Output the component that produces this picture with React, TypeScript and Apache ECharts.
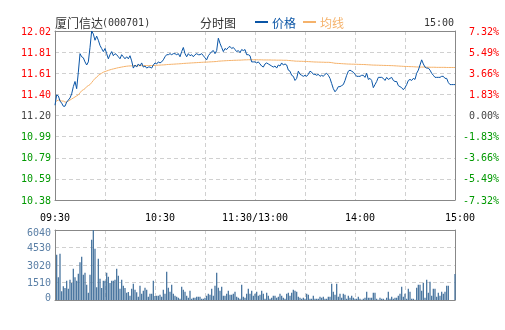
import React, { useEffect, useRef } from "react";
import * as echarts from "echarts";

const PREV_CLOSE = 11.2;

const priceLabels = ["10.38", "10.59", "10.79", "10.99", "11.20", "11.40", "11.61", "11.81", "12.02"];
const pctLabels = ["-7.32%", "-5.49%", "-3.66%", "-1.83%", "0.00%", "1.83%", "3.66%", "5.49%", "7.32%"];
const volLabels = ["0", "1510", "3020", "4530", "6040"];
const timeLabelIdx = [0, 60, 120, 180, 240];
const timeLabelText = ["09:30", "10:30", "11:30/13:00", "14:00", "15:00"];

const prices = [
  11.30, 11.40, 11.39, 11.34, 11.32, 11.29, 11.29, 11.33, 11.35, 11.37,
  11.41, 11.48, 11.53, 11.46, 11.62, 11.80, 11.77, 11.76, 11.72, 11.69,
  11.72, 11.86, 12.02, 11.99, 11.93, 11.97, 11.93, 11.88, 11.85, 11.82,
  11.85, 11.80, 11.75, 11.79, 11.82, 11.78, 11.80, 11.79, 11.77, 11.75,
  11.79, 11.77, 11.75, 11.77, 11.75, 11.78, 11.73, 11.66, 11.69, 11.67,
  11.70, 11.68, 11.71, 11.67, 11.68, 11.66, 11.67, 11.67, 11.66, 11.69,
  11.71, 11.70, 11.72, 11.71, 11.72, 11.74, 11.77, 11.79, 11.79, 11.80,
  11.79, 11.80, 11.80, 11.79, 11.80, 11.77, 11.82, 11.86, 11.80, 11.77,
  11.80, 11.78, 11.79, 11.77, 11.79, 11.80, 11.79, 11.79, 11.80, 11.78,
  11.76, 11.74, 11.78, 11.80, 11.82, 11.83, 11.80, 11.83, 11.95, 11.90,
  11.86, 11.82, 11.85, 11.84, 11.86, 11.87, 11.85, 11.86, 11.84, 11.82,
  11.83, 11.81, 11.84, 11.83, 11.84, 11.79, 11.79, 11.78, 11.72, 11.72,
  11.72, 11.71, 11.72, 11.70, 11.68, 11.67, 11.70, 11.71, 11.70, 11.69,
  11.68, 11.67, 11.68, 11.66, 11.69, 11.68, 11.71, 11.69, 11.70, 11.69,
  11.64, 11.63, 11.59, 11.58, 11.54, 11.56, 11.63, 11.60, 11.59, 11.58,
  11.59, 11.58, 11.60, 11.63, 11.62, 11.60, 11.60, 11.59, 11.60, 11.58,
  11.59, 11.58, 11.60, 11.61, 11.59, 11.56, 11.51, 11.46, 11.43, 11.45,
  11.48, 11.48, 11.49, 11.50, 11.54, 11.59, 11.63, 11.64, 11.63, 11.62,
  11.60, 11.58, 11.58, 11.58, 11.59, 11.59, 11.57, 11.61, 11.55, 11.56,
  11.54, 11.47, 11.50, 11.53, 11.57, 11.57, 11.57, 11.56, 11.54, 11.57,
  11.55, 11.56, 11.57, 11.54, 11.53, 11.53, 11.49, 11.48, 11.47, 11.45,
  11.47, 11.50, 11.54, 11.55, 11.54, 11.56, 11.55, 11.61, 11.64, 11.69,
  11.74, 11.70, 11.67, 11.66, 11.66, 11.64, 11.61, 11.59, 11.57, 11.57,
  11.57, 11.57, 11.58, 11.58, 11.56, 11.56, 11.52, 11.50, 11.50, 11.50,
  11.50,
];

const avgPrices = [
  11.33, 11.34, 11.35, 11.35, 11.34, 11.34, 11.33, 11.33, 11.34, 11.35,
  11.36, 11.37, 11.38, 11.39, 11.40, 11.42, 11.44, 11.45, 11.46, 11.48,
  11.49, 11.50, 11.52, 11.54, 11.56, 11.57, 11.59, 11.60, 11.61, 11.62,
  11.626, 11.632, 11.638, 11.643, 11.648, 11.652, 11.656, 11.66, 11.664, 11.667,
  11.67, 11.673, 11.676, 11.678, 11.68, 11.681, 11.682, 11.682, 11.683, 11.683,
  11.683, 11.683, 11.684, 11.684, 11.684, 11.684, 11.684, 11.685, 11.685, 11.685,
  11.686, 11.687, 11.688, 11.689, 11.69, 11.691, 11.692, 11.694, 11.695, 11.696,
  11.697, 11.698, 11.699, 11.7, 11.701, 11.702, 11.703, 11.705, 11.706, 11.707,
  11.708, 11.709, 11.71, 11.711, 11.712, 11.713, 11.714, 11.715, 11.716, 11.717,
  11.718, 11.718, 11.719, 11.72, 11.721, 11.722, 11.723, 11.724, 11.727, 11.728,
  11.729, 11.73, 11.731, 11.732, 11.733, 11.734, 11.734, 11.735, 11.736, 11.736,
  11.737, 11.737, 11.738, 11.739, 11.74, 11.74, 11.741, 11.741, 11.741, 11.741,
  11.741, 11.741, 11.74, 11.74, 11.74, 11.739, 11.739, 11.739, 11.739, 11.739,
  11.738, 11.738, 11.738, 11.737, 11.737, 11.737, 11.737, 11.736, 11.736, 11.736,
  11.734, 11.733, 11.731, 11.73, 11.728, 11.727, 11.727, 11.726, 11.726, 11.725,
  11.725, 11.724, 11.723, 11.722, 11.721, 11.72, 11.719, 11.719, 11.718, 11.718,
  11.717, 11.717, 11.716, 11.716, 11.716, 11.715, 11.713, 11.71, 11.707, 11.706,
  11.705, 11.704, 11.703, 11.702, 11.701, 11.7, 11.699, 11.699, 11.698, 11.698,
  11.697, 11.697, 11.696, 11.696, 11.695, 11.695, 11.694, 11.693, 11.692, 11.691,
  11.69, 11.689, 11.689, 11.688, 11.688, 11.687, 11.687, 11.686, 11.686, 11.685,
  11.685, 11.684, 11.684, 11.683, 11.682, 11.681, 11.68, 11.679, 11.678, 11.677,
  11.676, 11.676, 11.675, 11.674, 11.674, 11.673, 11.672, 11.671, 11.671, 11.67,
  11.67, 11.67, 11.669, 11.669, 11.669, 11.668, 11.668, 11.668, 11.668, 11.667,
  11.667, 11.667, 11.667, 11.667, 11.667, 11.666, 11.666, 11.666, 11.666, 11.666,
  11.666,
];

const volumes = [
  0, 3911, 1956, 3998, 748, 1179, 1035, 1668, 978, 1754,
  1467, 2703, 1956, 1668, 2272, 3250, 3739, 2186, 2358, 1323,
  633, 2186, 5206, 6040, 4429, 1093, 3566, 1841, 1035, 1668,
  1668, 2358, 2013, 1467, 1668, 1668, 1754, 2703, 2100, 978,
  1754, 1237, 1035, 633, 690, 374, 978, 1409, 892, 661,
  288, 1237, 546, 805, 1064, 892, 288, 546, 546, 1668,
  345, 374, 374, 460, 288, 892, 546, 2445, 1064, 719,
  1323, 546, 374, 288, 201, 115, 1150, 892, 719, 374,
  201, 805, 115, 201, 201, 288, 288, 288, 115, 115,
  201, 374, 546, 460, 978, 374, 1237, 2358, 1064, 805,
  1150, 374, 374, 546, 805, 460, 460, 546, 719, 288,
  201, 115, 1323, 288, 201, 546, 978, 546, 805, 374,
  546, 719, 374, 460, 805, 546, 115, 633, 374, 115,
  201, 374, 374, 201, 288, 546, 374, 201, 115, 546,
  633, 374, 633, 892, 805, 719, 288, 201, 115, 201,
  115, 546, 460, 115, 115, 374, 115, 115, 115, 288,
  201, 288, 115, 115, 288, 288, 1409, 719, 460, 1409,
  288, 546, 201, 546, 460, 115, 374, 201, 374, 201,
  115, 115, 288, 115, 30, 115, 201, 719, 201, 201,
  201, 633, 633, 115, 30, 201, 115, 115, 30, 201,
  719, 115, 288, 115, 201, 201, 374, 546, 1150, 288,
  546, 115, 978, 719, 115, 115, 30, 1064, 1323, 1323,
  805, 1496, 201, 1754, 633, 1582, 374, 978, 978, 288,
  633, 374, 719, 546, 719, 1237, 1237, 0, 0, 0,
  2243,
];

const times: string[] = [];
for (let i = 0; i <= 240; i++) {
  const base = i <= 120 ? 9 * 60 + 30 + i : 13 * 60 + (i - 120);
  const h = Math.floor(base / 60);
  const m = base % 60;
  times.push(`${String(h).padStart(2, "0")}:${String(m).padStart(2, "0")}`);
}

const MONO = '"DejaVu Sans Mono", monospace';
const CJK = '"Noto Sans CJK SC", sans-serif';
const BLUE = "#0a55a6";
const ORANGE = "#f5b26b";
const RED = "#ff0000";
const GREEN = "#009900";
const GRAYTXT = "#444444";
const BORDER = { show: true, onZero: false, lineStyle: { color: "#888888", width: 1 } };
const dash = () => ({ show: true, lineStyle: { type: [4, 3], color: "#d0d0d0", width: 1 } });

export default function App() {
  const ref = useRef<HTMLDivElement>(null);
  useEffect(() => {
    if (!ref.current) return;
    const chart = echarts.init(ref.current, undefined, { renderer: "svg" });
    const pct = prices.map((p) => +((p / PREV_CLOSE - 1) * 100).toFixed(4));
    const avgPct = avgPrices.map((p) => +((p / PREV_CLOSE - 1) * 100).toFixed(4));
    const idxOf = (v: number) => Math.round((v + 7.32) / 1.83);
    const cls = (k: number) => (k > 4 ? "r" : k < 4 ? "g" : "n");
    const rich = {
      r: { color: RED, fontFamily: MONO, fontSize: 10 },
      g: { color: GREEN, fontFamily: MONO, fontSize: 10 },
      n: { color: GRAYTXT, fontFamily: MONO, fontSize: 10 },
    };
    const splitX = () => ({ ...dash(), interval: (i: number) => i % 30 === 0 && i > 0 && i < 240 });
    const hiddenCat = (grid: number, position: string) => ({
      type: "category",
      gridIndex: grid,
      position,
      data: times,
      boundaryGap: false,
      axisLine: BORDER,
      axisTick: { show: false },
      axisLabel: { show: false },
      splitLine: { show: false },
    });
    const option: any = {
      animation: false,
      grid: [
        { left: 55, right: 50, top: 31, height: 169 },
        { left: 55, right: 50, top: 230, height: 70 },
      ],
      legend: {
        left: 255,
        top: 16,
        padding: 0,
        icon: "rect",
        itemWidth: 13,
        itemHeight: 2,
        itemGap: 7,
        textStyle: { fontFamily: CJK, fontSize: 12, padding: [0, 0, 0, -1] },
        data: [
          { name: "价格", textStyle: { color: BLUE } },
          { name: "均线", textStyle: { color: ORANGE } },
        ],
      },
      graphic: [
        { type: "text", x: 55, y: 22, style: { text: "厦门信达", fill: "#333", font: `12px ${CJK}`, verticalAlign: "middle" } },
        { type: "text", x: 102, y: 22, style: { text: "(000701)", fill: "#333", font: `10px ${MONO}`, verticalAlign: "middle" } },
        { type: "text", x: 200, y: 22, style: { text: "分时图", fill: "#333", font: `12px ${CJK}`, verticalAlign: "middle" } },
        { type: "text", x: 454, y: 22, style: { text: "15:00", fill: "#333", font: `10px ${MONO}`, align: "right", verticalAlign: "middle" } },
      ],
      xAxis: [
        {
          type: "category",
          gridIndex: 0,
          position: "bottom",
          data: times,
          boundaryGap: false,
          axisLine: BORDER,
          axisTick: { show: false },
          splitLine: splitX(),
          axisLabel: {
            interval: (i: number) => timeLabelIdx.includes(i),
            margin: 12,
            formatter: (_v: string, i: number) => {
              const k = timeLabelIdx.indexOf(i);
              if (k < 0) return "";
              return k === 0 || k === 2 ? `{a|${timeLabelText[k]}}` : `{b|${timeLabelText[k]}}`;
            },
            rich: {
              a: { color: "#000", fontFamily: MONO, fontSize: 10 },
              b: { color: "#000", fontFamily: MONO, fontSize: 10, padding: [0, 0, 0, 10] },
            },
          },
        },
        hiddenCat(0, "top"),
        {
          type: "category",
          gridIndex: 1,
          position: "bottom",
          data: times,
          boundaryGap: false,
          axisLine: BORDER,
          axisTick: { show: false },
          axisLabel: { show: false },
          splitLine: splitX(),
        },
        hiddenCat(1, "top"),
      ],
      yAxis: [
        {
          type: "value",
          gridIndex: 0,
          position: "left",
          min: -7.32,
          max: 7.32,
          interval: 1.83,
          axisLine: BORDER,
          axisTick: { show: false },
          splitLine: dash(),
          axisLabel: {
            margin: 4,
            fontFamily: MONO,
            fontSize: 10,
            formatter: (v: number) => {
              const k = idxOf(v);
              return `{${cls(k)}|${priceLabels[k]}}`;
            },
            rich,
          },
        },
        {
          type: "value",
          gridIndex: 0,
          position: "right",
          min: -7.32,
          max: 7.32,
          interval: 1.83,
          axisLine: BORDER,
          axisTick: { show: false },
          splitLine: { show: false },
          axisLabel: {
            margin: 44,
            align: "right",
            fontFamily: MONO,
            fontSize: 10,
            formatter: (v: number) => {
              const k = idxOf(v);
              return `{${cls(k)}|${pctLabels[k]}}`;
            },
            rich,
          },
        },
        {
          type: "value",
          gridIndex: 1,
          position: "left",
          min: 0,
          max: 6040,
          interval: 1510,
          axisLine: BORDER,
          axisTick: { show: false },
          splitLine: dash(),
          axisLabel: {
            margin: 4,
            fontFamily: MONO,
            fontSize: 10,
            formatter: (v: number) => {
              const k = Math.round(v / 1510);
              if (k === 4) return `{t|${volLabels[k]}}`;
              if (k === 0) return `{z|${volLabels[k]}}`;
              return `{m|${volLabels[k]}}`;
            },
            rich: {
              t: { color: "#5a7fa6", fontFamily: MONO, fontSize: 10, padding: [4, 0, 0, 0] },
              m: { color: "#5a7fa6", fontFamily: MONO, fontSize: 10 },
              z: { color: "#5a7fa6", fontFamily: MONO, fontSize: 10, padding: [0, 0, 6, 0] },
            },
          },
        },
        {
          type: "value",
          gridIndex: 1,
          position: "right",
          min: 0,
          max: 6040,
          interval: 1510,
          axisLine: BORDER,
          axisTick: { show: false },
          axisLabel: { show: false },
          splitLine: { show: false },
        },
      ],
      series: [
        {
          name: "价格",
          type: "line",
          xAxisIndex: 0,
          yAxisIndex: 0,
          data: pct,
          symbol: "none",
          lineStyle: { color: BLUE, width: 1 },
          itemStyle: { color: BLUE },
          z: 3,
        },
        {
          name: "均线",
          type: "line",
          xAxisIndex: 0,
          yAxisIndex: 0,
          data: avgPct,
          symbol: "none",
          lineStyle: { color: ORANGE, width: 1 },
          itemStyle: { color: ORANGE },
          z: 2,
        },
        {
          name: "成交量",
          type: "bar",
          xAxisIndex: 2,
          yAxisIndex: 2,
          data: volumes,
          barWidth: 1.3,
          itemStyle: { color: "#4a76a0" },
        },
      ],
    };
    chart.setOption(option);
    return () => chart.dispose();
  }, []);
  return <div ref={ref} style={{ position: "fixed", left: 0, top: 0, width: 505, height: 330 }} />;
}
